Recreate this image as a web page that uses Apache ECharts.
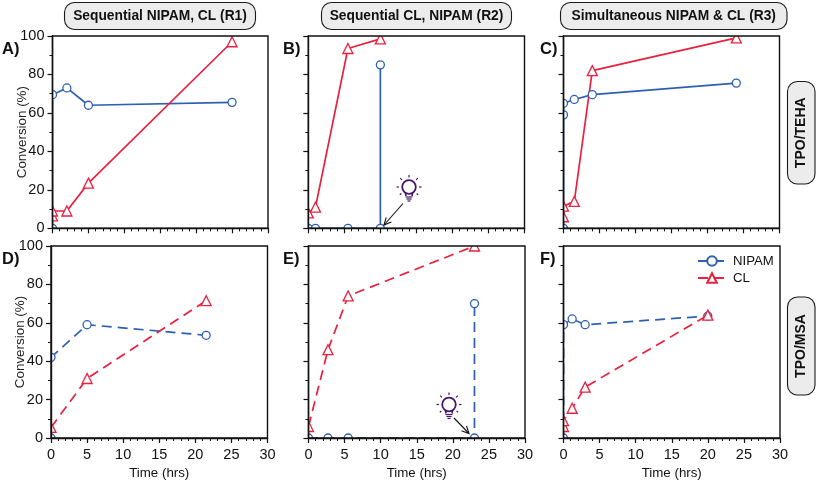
<!DOCTYPE html>
<html><head><meta charset="utf-8">
<style>html,body{margin:0;padding:0;background:#fff}#c{width:817px;height:481px}</style>
<script src="https://cdn.jsdelivr.net/npm/echarts@6/dist/echarts.min.js"></script>
</head><body><div id="c"></div>
<script>
const xTicks = [0, 5, 10, 15, 20, 25, 30];
const yTicks = [0, 20, 40, 60, 80, 100];
const columnTitles = ['Sequential NIPAM, CL (R1)', 'Sequential CL, NIPAM (R2)', 'Simultaneous NIPAM & CL (R3)'];
const rowTitles = ['TPO/TEHA', 'TPO/MSA'];
const panelLabels = ['A)', 'B)', 'C)', 'D)', 'E)', 'F)'];

const nipamA = [[0,0],[0,69.5],[2,73],[5,64],[25,65.5]];
const clA    = [[0,6.5],[0,9],[2,9],[5,23.5],[25,97]];
const nipamB = [[0,0],[1,0],[5.5,0],[10,0],[10,85]];
const clB    = [[0,8],[1,11],[5.5,93.5],[10,98.5]];
const nipamC = [[0,0],[0,59],[0,65],[1.5,67],[4,69.5],[24,75.5]];
const clC    = [[0,6],[0,11.5],[1.5,14],[4,82],[24,99]];
const nipamD = [[0,0],[0,42],[5,59],[21.5,53.5]];
const clD    = [[0,5.5],[5,31],[21.5,71.5]];
const nipamE = [[0,0],[2.7,0],[5.5,0],[23,0],[23,70]];
const clE    = [[0,6],[2.7,46],[5.5,74],[23,100]];
const nipamF = [[0,0],[0,59],[1.2,62],[3,59],[20,63.5]];
const clF    = [[0,6],[0,9],[1.2,15.5],[3,26.5],[20,64]];

const nipamSets = [nipamA, nipamB, nipamC, nipamD, nipamE, nipamF];
const clSets = [clA, clB, clC, clD, clE, clF];

const BLUE = '#2f5fb3', RED = '#e9213f', PURPLE = '#45156b', FONT = 'Liberation Sans';
const boxes = [
  [52.5, 36, 215.5, 192.3], [308.3, 36, 216.2, 192.3], [563.5, 36, 216, 192.3],
  [51, 246, 216.5, 192.3], [308.5, 246, 216.5, 192.3], [563.5, 246, 216.5, 192.3]
];

const grid = boxes.map(b => ({
  left: b[0], top: b[1], width: b[2], height: b[3], z: 4, show: true,
  backgroundColor: 'transparent', borderColor: '#111', borderWidth: 1.4
}));
const xAxis = boxes.map((b, i) => ({
  gridIndex: i, type: 'value', min: 0, max: 30, interval: 5, z: 4,
  splitLine: { show: false },
  axisLine: { show: true, onZero: false, lineStyle: { color: '#111', width: 1.4 } },
  axisTick: { show: true, length: 5, lineStyle: { color: '#111', width: 1.2 } },
  minorTick: { show: true, splitNumber: 5, length: 3, lineStyle: { color: '#111', width: 1 } },
  axisLabel: { show: i > 2, color: '#111', fontFamily: FONT, fontSize: 14.5, margin: 9, hideOverlap: false,
    showMinLabel: true, showMaxLabel: true, customValues: xTicks },
  name: i > 2 ? 'Time (hrs)' : '', nameLocation: 'middle', nameGap: 29, nameMoveOverlap: false,
  nameTextStyle: { color: '#111', fontFamily: FONT, fontSize: 13.3 }
}));
const yAxis = boxes.map((b, i) => ({
  gridIndex: i, type: 'value', min: 0, max: 100, interval: 20, z: 4,
  splitLine: { show: false },
  axisLine: { show: true, onZero: false, lineStyle: { color: '#111', width: 1.4 } },
  axisTick: { show: true, length: 5, lineStyle: { color: '#111', width: 1.2 } },
  minorTick: { show: true, splitNumber: 2, length: 3, lineStyle: { color: '#111', width: 1 } },
  axisLabel: { show: i % 3 === 0, color: '#111', fontFamily: FONT, fontSize: 14.5, margin: 8, customValues: yTicks },
  name: i % 3 === 0 ? 'Conversion (%)' : '', nameLocation: 'middle', nameGap: 24, nameMoveOverlap: false,
  nameTextStyle: { color: '#222', fontFamily: FONT, fontSize: 13.4 }
}));

function makeSeries(name, data, i, color, symbol, size) {
  return {
    name: name, type: 'line', xAxisIndex: i, yAxisIndex: i, data: data, z: 2, clip: false,
    symbol: symbol, symbolSize: size, showAllSymbol: true, animation: false,
    lineStyle: { color: color, width: 1.7, type: i > 2 ? [10, 6] : 'solid' },
    itemStyle: { color: '#fff', borderColor: color, borderWidth: 1.3 },
    emphasis: { disabled: true }
  };
}
const series = [];
boxes.forEach((b, i) => {
  const suffix = i === 5 ? '' : ' ' + panelLabels[i];
  series.push(makeSeries('NIPAM' + suffix, nipamSets[i], i, BLUE, 'circle', 8));
  series.push(makeSeries('CL' + suffix, clSets[i], i, RED, 'triangle', 10));
});

const graphic = [];
// Markers sit exactly on the frame in the reference and are cut by it
boxes.forEach(b => {
  const pad = 9;
  [[b[0]-pad, b[1]-pad, pad, b[3]+2*pad], [b[0]+b[2], b[1]-pad, pad, b[3]+2*pad],
   [b[0]-pad, b[1]-pad, b[2]+2*pad, pad], [b[0]-pad, b[1]+b[3], b[2]+2*pad, pad]].forEach(r => {
    graphic.push({ type: 'rect', z: 3, silent: true, shape: { x: r[0], y: r[1], width: r[2], height: r[3] }, style: { fill: '#fff' } });
  });
});
const boldFont = size => 'bold ' + size + 'px "Liberation Sans"';
function pill(x, y, w, h, text, vertical) {
  graphic.push({ type: 'rect', z: 10, shape: { x: x, y: y, width: w, height: h, r: 10 },
    style: { fill: '#ececec', stroke: '#1a1a1a', lineWidth: 1.1 } });
  graphic.push({ type: 'text', z: 11, x: x + w / 2, y: y + h / 2, rotation: vertical ? Math.PI / 2 : 0,
    style: { text: text, fill: '#111', font: boldFont(vertical ? 14 : 13.8), align: 'center', verticalAlign: 'middle' } });
}
pill(64.5, 2.5, 191, 27, columnTitles[0]);
pill(321.5, 2.5, 190, 27, columnTitles[1]);
pill(560.5, 2.5, 226.5, 27, columnTitles[2]);
pill(787.5, 81.5, 27.5, 102.5, rowTitles[0], true);
pill(787.5, 297, 27.5, 98, rowTitles[1], true);

[[2,49],[283,49],[540,49],[2,259],[283,259],[540,259]].forEach((p, i) => {
  graphic.push({ type: 'text', z: 11, x: p[0], y: p[1],
    style: { text: panelLabels[i], fill: '#111', font: boldFont(16.5), align: 'left', verticalAlign: 'middle' } });
});

function bulb(cx, cy) {
  const st = { stroke: PURPLE, lineWidth: 1.2, fill: null };
  graphic.push({ type: 'circle', z: 11, shape: { cx: cx, cy: cy - 1, r: 6.8 }, style: { fill: '#fff', stroke: PURPLE, lineWidth: 1.8 } });
  [[-3.6,4.6,-3,8],[3.6,4.6,3,8]].forEach(s => graphic.push({ type: 'line', z: 11,
    shape: { x1: cx+s[0], y1: cy+s[1], x2: cx+s[2], y2: cy+s[3] }, style: { stroke: PURPLE, lineWidth: 1.6 } }));
  [[9,3.4],[11,2.6],[13,1.5]].forEach(s => graphic.push({ type: 'line', z: 11,
    shape: { x1: cx-s[1], y1: cy+s[0], x2: cx+s[1], y2: cy+s[0] }, style: { stroke: PURPLE, lineWidth: 1.2 } }));
  [[-90,9.5,12],[-45,10,12.5],[-135,10,12.5],[0,10,12.5],[180,10,12.5],[40,10,12],[140,10,12]].forEach(a => {
    const t = a[0] * Math.PI / 180;
    graphic.push({ type: 'line', z: 11, shape: { x1: cx+a[1]*Math.cos(t), y1: cy-1+a[1]*Math.sin(t), x2: cx+a[2]*Math.cos(t), y2: cy-1+a[2]*Math.sin(t) }, style: st });
  });
}
function arrow(x1, y1, x2, y2) {
  const t = Math.atan2(y2 - y1, x2 - x1), L = 8, A = 0.45;
  graphic.push({ type: 'line', z: 11, shape: { x1: x1, y1: y1, x2: x2, y2: y2 }, style: { stroke: '#111', lineWidth: 1.1 } });
  graphic.push({ type: 'polyline', z: 11, shape: { points: [
    [x2 - L*Math.cos(t-A), y2 - L*Math.sin(t-A)], [x2, y2], [x2 - L*Math.cos(t+A), y2 - L*Math.sin(t+A)]
  ] }, style: { stroke: '#111', lineWidth: 1.1, fill: null } });
}
bulb(409, 188); arrow(403, 203.5, 384, 225);
bulb(449, 405.5); arrow(454, 418, 469, 433.5);

const chart = echarts.init(document.getElementById('c'), null, { renderer: 'canvas' });
chart.setOption({
  animation: false, backgroundColor: '#fff', grid, xAxis, yAxis, series, graphic,
  legend: {
    data: ['NIPAM', 'CL'], orient: 'vertical', left: 692, top: 249, z: 5, selectedMode: false,
    itemWidth: 28, itemHeight: 12, itemGap: 3,
    textStyle: { color: '#111', fontFamily: FONT, fontSize: 13.2, lineHeight: 14, padding: [0, 0, 0, 2] }
  }
});
</script></body></html>
